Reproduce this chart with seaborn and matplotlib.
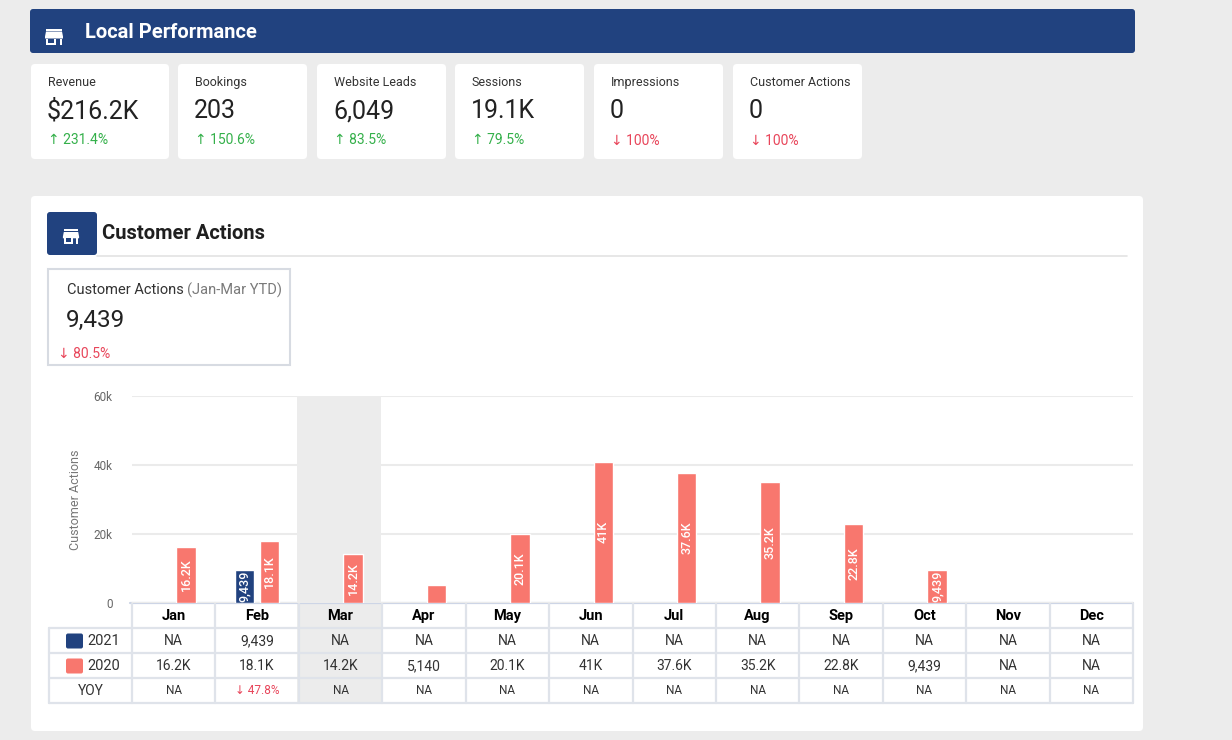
import numpy as np
import pandas as pd
import matplotlib.pyplot as plt
import seaborn as sns
from matplotlib.patches import FancyBboxPatch, Rectangle, Polygon

# data
months = ['Jan', 'Feb', 'Mar', 'Apr', 'May', 'Jun', 'Jul', 'Aug', 'Sep', 'Oct', 'Nov', 'Dec']
actions_2021 = [np.nan, 9439, np.nan, np.nan, np.nan, np.nan, np.nan, np.nan, np.nan, np.nan, np.nan, np.nan]
actions_2020 = [16200, 18080, 14200, 5140, 20100, 41000, 37600, 35200, 22800, 9439, np.nan, np.nan]
years = ['2021', '2020']
highlight_month = 'Mar'

kpi_names = ['Revenue', 'Bookings', 'Website Leads', 'Sessions', 'Impressions', 'Customer Actions']
kpi_values = ['$216.2K', '203', '6,049', '19.1K', '0', '0']
kpi_changes = [231.4, 150.6, 83.5, 79.5, -100, -100]

ytd_name = 'Customer Actions'
ytd_period = '(Jan-Mar YTD)'
ytd_value = '9,439'
ytd_change = -80.5

y_ticks = [0, 20000, 40000, 60000]
y_tick_labels = ['0', '20k', '40k', '60k']

NAVY = '#21427f'
SALMON = '#f8776e'
GREEN = '#34b04a'
RED = '#e8455a'
BG = '#ececec'
BORDER = '#dfe3ea'


def fmt_k(v):
    if v is None or np.isnan(v):
        return 'NA'
    if v < 10000:
        return f'{v:,.0f}'
    return f'{v / 1000:.1f}'.rstrip('0').rstrip('.') + 'K'


def bar_text(v):
    # short bars get no label
    return fmt_k(v) if v >= 8000 else ''


def fmt_change(c):
    arrow = '\u2191' if c >= 0 else '\u2193'
    return f'{arrow} {abs(c):g}%'


sns.set_style('white')
plt.rcParams['font.family'] = ['Roboto', 'DejaVu Sans']

fig = plt.figure(figsize=(12.32, 7.4), dpi=100)
fig.patch.set_facecolor(BG)

# full-figure axes in pixel coords for the dashboard frame
bg = fig.add_axes([0, 0, 1, 1], zorder=0)
bg.set_xlim(0, 1232)
bg.set_ylim(740, 0)
bg.axis('off')


def card(x, y, w, h, fc='white', ec='none', lw=0, r=4, z=1):
    bg.add_patch(FancyBboxPatch((x, y), w, h, boxstyle=f'round,pad=0,rounding_size={r}',
                                fc=fc, ec=ec, lw=lw, zorder=z))


def store_icon(cx, cy, s, color, hole):
    # material "store" glyph, 24 unit grid centred at (12, 12)
    def P(pts):
        return [(cx + (u - 12) * s, cy + (v - 12) * s) for u, v in pts]
    bg.add_patch(Polygon(P([(4, 4), (20, 4), (20, 6), (4, 6)]), fc=color, ec='none', zorder=5))
    bg.add_patch(Polygon(P([(4, 7), (20, 7), (21, 12), (21, 14), (3, 14), (3, 12)]), fc=color, ec='none', zorder=5))
    bg.add_patch(Polygon(P([(4, 14), (14, 14), (14, 20), (4, 20)]), fc=color, ec='none', zorder=5))
    bg.add_patch(Polygon(P([(6, 14), (12, 14), (12, 18), (6, 18)]), fc=hole, ec='none', zorder=6))
    bg.add_patch(Polygon(P([(18, 14), (20, 14), (20, 20), (18, 20)]), fc=color, ec='none', zorder=5))


# header bar
card(30, 9, 1105, 44, fc=NAVY, r=3)
store_icon(54, 36.5, 1.0, 'white', NAVY)
bg.text(85, 32, 'Local Performance', color='white', fontsize=14.5, fontweight='bold', va='center', zorder=6)

# KPI cards
card_x = [31, 178, 317, 455, 594, 733]
card_w = [138, 129, 129, 129, 129, 129]
for x, w, name, val, ch in zip(card_x, card_w, kpi_names, kpi_values, kpi_changes):
    card(x, 64, w, 95, r=4)
    bg.text(x + 17, 82.5, name, fontsize=9, color='#333333', va='center', zorder=6)
    bg.text(x + 16, 111, val, fontsize=18, color='#222222', va='center', zorder=6)
    bg.text(x + 17, 140.5, fmt_change(ch), fontsize=10, color=GREEN if ch >= 0 else RED,
            va='center', zorder=6)

# lower panel
card(31, 196, 1112, 535, r=4)
card(47, 212, 50, 43, fc=NAVY, r=3, z=2)
store_icon(71, 236.5, 0.9, 'white', NAVY)
bg.text(102, 233.5, 'Customer Actions', fontsize=14.5, fontweight='bold', color='#1f1f1f', va='center', zorder=6)
bg.plot([97, 1127], [255.5, 255.5], color='#e3e3e3', lw=1.2, zorder=3)

# YTD box
bg.add_patch(Rectangle((48, 269), 242, 96, fc='white', ec='#d7dbe2', lw=1.5, zorder=3))
t = bg.text(67, 290, ytd_name + ' ', fontsize=10.5, color='#333333', va='center', zorder=6)
fig.canvas.draw()
bb = t.get_window_extent().transformed(bg.transData.inverted())
bg.text(bb.x1, 290, ytd_period, fontsize=10.5, color='#7a7a7a', va='center', zorder=6)
bg.text(66, 320, ytd_value, fontsize=17.5, color='#222222', va='center', zorder=6)
bg.text(58, 354, fmt_change(ytd_change), fontsize=10, color=RED if ytd_change < 0 else GREEN,
        va='center', zorder=6)

# chart area
x0, x1, y_top, y_zero = 132, 1133, 396, 603
cw = (x1 - x0) / len(months)
ax = fig.add_axes([x0 / 1232, 1 - y_zero / 740, (x1 - x0) / 1232, (y_zero - y_top) / 740], zorder=2)
ax.patch.set_visible(False)

df = pd.DataFrame({
    'month': months * 2,
    'year': [years[0]] * 12 + [years[1]] * 12,
    'value': actions_2021 + actions_2020,
}).dropna()

sns.barplot(data=df, x='month', y='value', hue='year', order=months, hue_order=years,
            palette=[NAVY, SALMON], width=0.6, gap=0.22, saturation=1, legend=False,
            errorbar=None, ax=ax, zorder=3)

hi = months.index(highlight_month)
ax.axvspan(hi - 0.5 - 0.02, hi + 0.5 - 0.02, color=BG, lw=0, zorder=1)
for c in ax.containers:
    ax.bar_label(c, fmt=bar_text, label_type='center', rotation=90, color='white',
                 fontsize=9, fontweight='medium')

ax.set_xlim(-0.5, len(months) - 0.5)
ax.set_ylim(0, 60000)
ax.set_yticks(y_ticks)
ax.set_yticklabels(y_tick_labels)
ax.set_xticks([])
ax.set_xlabel('')
ax.set_ylabel('Customer Actions', fontsize=9, color='#777777')
ax.yaxis.set_label_coords(-0.05, 0.5)
ax.tick_params(axis='y', length=0, pad=14, labelsize=8.5, labelcolor='#666666')
ax.set_axisbelow(True)
ax.yaxis.grid(True, color='#ebebeb', lw=1.5, zorder=0)
sns.despine(ax=ax, left=True, bottom=True)

# table under the chart
rows_y = [603, 628, 653, 678, 703]
bg.add_patch(Rectangle((x0 + (hi - 0.02) * cw, rows_y[0]), cw, rows_y[-1] - rows_y[0], fc=BG, ec='none', zorder=2))
for y in rows_y[1:]:
    bg.plot([49, x1], [y, y], color=BORDER, lw=1.6, zorder=4)
bg.plot([x0 - 2, x1], [603, 603], color='#cdd5e6', lw=1.6, zorder=4)
for i in range(len(months) + 1):
    bg.plot([x0 + i * cw] * 2, [603, 703], color=BORDER, lw=1.6, zorder=4)
bg.plot([49, 49], [628, 703], color=BORDER, lw=1.6, zorder=4)

for i, m in enumerate(months):
    cx = x0 + (i + 0.5) * cw
    bg.text(cx, 616, m, ha='center', va='center', fontsize=10.5, fontweight='bold', color='black', zorder=6)
    bg.text(cx, 641, fmt_k(actions_2021[i]), ha='center', va='center', fontsize=10, color='#333333', zorder=6)
    bg.text(cx, 666, fmt_k(actions_2020[i]), ha='center', va='center', fontsize=10, color='#333333', zorder=6)
    a, b = actions_2021[i], actions_2020[i]
    if np.isnan(a) or np.isnan(b):
        bg.text(cx, 691, 'NA', ha='center', va='center', fontsize=8.5, color='#333333', zorder=6)
    else:
        pct = (a - b) / b * 100
        bg.text(cx, 691, fmt_change(round(pct, 1)), ha='center', va='center', fontsize=8.5,
                color=RED if pct < 0 else GREEN, zorder=6)

for y, yr, col in [(641, years[0], NAVY), (666, years[1], SALMON)]:
    card(66, y - 7.5, 17, 15, fc=col, r=2, z=5)
    bg.text(87, y, yr, fontsize=10.5, color='#333333', va='center', zorder=6)
bg.text(91, 691, 'YOY', fontsize=10, color='#333333', ha='center', va='center', zorder=6)

fig.savefig('out.png', dpi=100, facecolor=BG)
